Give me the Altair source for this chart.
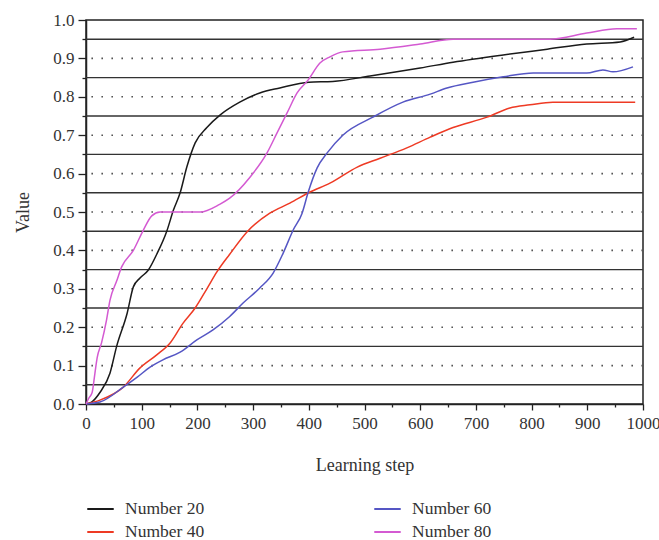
import altair as alt
import pandas as pd

# ---- data ----
series_names = ["Number 20", "Number 40", "Number 60", "Number 80"]
series_colors = ["#1a1a1a", "#ee3a24", "#5556c4", "#d45ad2"]

steps_20 = [0, 10, 25, 43, 55, 74, 85, 97, 112, 127, 145, 157, 169, 181, 196, 217, 241, 276, 312, 348, 400, 443, 510, 558, 600, 659, 749, 828, 899, 959, 984]
vals_20 = [0.0, 0.005, 0.03, 0.08, 0.15, 0.237, 0.305, 0.328, 0.349, 0.39, 0.45, 0.505, 0.55, 0.617, 0.68, 0.72, 0.753, 0.786, 0.81, 0.823, 0.838, 0.84, 0.854, 0.865, 0.875, 0.89, 0.909, 0.924, 0.9375, 0.943, 0.955]

steps_40 = [0, 25, 67, 97, 127, 151, 174, 196, 217, 235, 258, 289, 330, 366, 402, 438, 487, 528, 576, 618, 659, 720, 761, 797, 838, 986]
vals_40 = [0.0, 0.01, 0.044, 0.094, 0.128, 0.159, 0.21, 0.25, 0.30, 0.344, 0.39, 0.448, 0.497, 0.523, 0.552, 0.575, 0.617, 0.64, 0.667, 0.695, 0.72, 0.747, 0.771, 0.779, 0.786, 0.786]

steps_60 = [0, 25, 67, 92, 115, 138, 169, 199, 228, 258, 282, 312, 336, 354, 372, 388, 399, 415, 433, 461, 515, 569, 618, 648, 695, 749, 803, 899, 928, 946, 982]
vals_60 = [0.0, 0.005, 0.044, 0.07, 0.096, 0.115, 0.135, 0.167, 0.193, 0.228, 0.263, 0.302, 0.341, 0.393, 0.453, 0.497, 0.552, 0.615, 0.654, 0.70, 0.747, 0.786, 0.807, 0.823, 0.838, 0.852, 0.862, 0.862, 0.87, 0.865, 0.878]

steps_80 = [0, 5, 11, 16, 20, 28, 37, 43, 55, 64, 85, 103, 118, 133, 205, 240, 258, 294, 325, 343, 361, 379, 399, 420, 438, 461, 528, 600, 659, 833, 899, 953, 989]
vals_80 = [0.0, 0.015, 0.03, 0.08, 0.12, 0.16, 0.22, 0.27, 0.32, 0.357, 0.40, 0.453, 0.49, 0.5, 0.5, 0.52, 0.536, 0.59, 0.654, 0.706, 0.758, 0.81, 0.844, 0.888, 0.904, 0.917, 0.924, 0.9375, 0.95, 0.95, 0.966, 0.977, 0.977]

solid_levels = [0.05, 0.15, 0.25, 0.35, 0.45, 0.55, 0.65, 0.75, 0.85, 0.95]
dotted_levels = [0.1, 0.2, 0.3, 0.4, 0.5, 0.6, 0.7, 0.8, 0.9]

x_tick_values = [0, 50, 100, 150, 200, 250, 300, 350, 400, 450, 500, 550, 600, 650, 700, 750, 800, 850, 900, 950, 1000]
y_tick_values = [0.0, 0.05, 0.1, 0.15, 0.2, 0.25, 0.3, 0.35, 0.4, 0.45, 0.5, 0.55, 0.6, 0.65, 0.7, 0.75, 0.8, 0.85, 0.9, 0.95, 1.0]

# ---- build table ----
rows = []
for name, st, vl in zip(series_names,
                        [steps_20, steps_40, steps_60, steps_80],
                        [vals_20, vals_40, vals_60, vals_80]):
    for s, v in zip(st, vl):
        rows.append({"step": s, "value": v, "series": name})
df = pd.DataFrame(rows)

FONT = "Liberation Serif"

y_axis = alt.Axis(
    title="Value", values=y_tick_values,
    labelExpr="round(datum.value*20) % 2 ? '' : format(datum.value, '.1f')",
    tickSize={"condition": {"test": "round(datum.value*20) % 2", "value": 4}, "value": 8},
    grid=False, domainColor="#222", domainWidth=1.5, tickColor="#222", tickWidth=1.3,
    labelFont=FONT, labelFontSize=17, labelColor="#333", labelPadding=4,
    titleFont=FONT, titleFontSize=18, titleFontWeight="normal", titleColor="#333",
    titlePadding=20,
)
y_scale = alt.Scale(domain=[0, 1], nice=False, zero=False)
y_enc = alt.Y("value:Q", scale=y_scale, axis=y_axis)

x_axis = alt.Axis(
    title="Learning step", values=x_tick_values, format="d",
    labelExpr="datum.value % 100 ? '' : format(datum.value, 'd')",
    tickSize={"condition": {"test": "datum.value % 100", "value": 3}, "value": 6},
    grid=False, domainColor="#222", domainWidth=1.5, tickColor="#222", tickWidth=1.3,
    labelFont=FONT, labelFontSize=17, labelColor="#333", labelFlush=False,
    labelOverlap=False, labelPadding=5,
    titleFont=FONT, titleFontSize=18, titleFontWeight="normal", titleColor="#333",
    titlePadding=25,
)
x_enc = alt.X("step:Q", scale=alt.Scale(domain=[0, 1000], nice=False), axis=x_axis)

solid = alt.Chart(pd.DataFrame({"value": solid_levels})).mark_rule(
    color="#333", strokeWidth=1.4
).encode(y=y_enc)

dotted = alt.Chart(pd.DataFrame({"value": dotted_levels})).mark_rule(
    color="#555", strokeWidth=1.6, strokeDash=[1.6, 8.4], strokeCap="butt"
).encode(y=y_enc)

lines = alt.Chart(df).mark_line(strokeWidth=1.5, interpolate="monotone").encode(
    x=x_enc,
    y=y_enc,
    color=alt.Color(
        "series:N",
        scale=alt.Scale(domain=series_names, range=series_colors),
        legend=alt.Legend(
            title=None, orient="none", legendX=0, legendY=480, columns=2,
            columnPadding=168, rowPadding=5, clipHeight=18,
            symbolType="stroke", symbolSize=700,
            symbolStrokeWidth=2, labelFont=FONT, labelFontSize=17.5, labelColor="#333",
            labelOffset=10,
        ),
    ),
    order=alt.Order("step:Q"),
)

chart = alt.layer(solid, dotted, lines).properties(
    width=557, height=384,
    autosize=alt.AutoSizeParams(type="none"),
    padding={"left": 86, "top": 20, "right": 16, "bottom": 136},
).configure_view(stroke="#222", strokeWidth=1.5)

chart.save("out.html", embed_options={"renderer": "svg", "actions": False})
